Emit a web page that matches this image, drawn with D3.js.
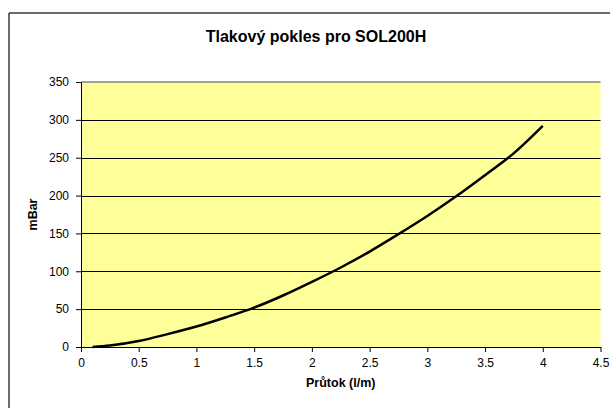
<!DOCTYPE html>
<html><head><meta charset="utf-8">
<script src="https://cdn.jsdelivr.net/npm/d3@7"></script>
<style>html,body{margin:0;padding:0;background:#fff;overflow:hidden;}svg{display:block;overflow:hidden;}</style>
</head><body>
<script>
const flowValues = [0.1, 0.25, 0.5, 0.75, 1.0, 1.25, 1.5, 1.75, 2.0, 2.25, 2.5, 2.75, 3.0, 3.25, 3.5, 3.75, 4.0];
const pressureValues = [0, 2, 8, 17, 27, 39, 52, 68, 86, 105, 126, 149, 173, 199, 227, 256, 292];
const xTicks = [0, 0.5, 1, 1.5, 2, 2.5, 3, 3.5, 4, 4.5];
const yTicks = [0, 50, 100, 150, 200, 250, 300, 350];
const titleText = "Tlakový pokles pro SOL200H";
const xLabel = "Průtok (l/m)";
const yLabel = "mBar";

const W = 610, H = 408;
const m = {left: 81, right: 600.5, top: 82, bottom: 347};
const svg = d3.select("body").append("svg").attr("width", W).attr("height", H);
const font = "Arial, 'Liberation Sans', sans-serif";

// chart area border: only its left and top edges fall inside the frame
svg.append("line").attr("x1", 9).attr("x2", 9).attr("y1", 13).attr("y2", H)
  .attr("stroke", "#3a3a3a").attr("stroke-width", 1.5);
svg.append("line").attr("x1", 9).attr("x2", W).attr("y1", 13).attr("y2", 13)
  .attr("stroke", "#3a3a3a").attr("stroke-width", 1.5);

const x = d3.scaleLinear().domain([0, 4.5]).range([m.left, m.right]);
const y = d3.scaleLinear().domain([0, 350]).range([m.bottom, m.top]);

// plot area
svg.append("rect").attr("x", m.left).attr("y", m.top)
  .attr("width", m.right - m.left).attr("height", m.bottom - m.top)
  .attr("fill", "#FFFF99");
svg.append("line").attr("x1", m.left).attr("x2", m.right).attr("y1", m.top).attr("y2", m.top)
  .attr("stroke", "#808080").attr("stroke-width", 1.5);

// gridlines
svg.append("g").selectAll("line").data(yTicks.filter(d => d > 0 && d < 350)).join("line")
  .attr("x1", m.left).attr("x2", m.right)
  .attr("y1", d => Math.round(y(d)) + 0.5).attr("y2", d => Math.round(y(d)) + 0.5)
  .attr("stroke", "#000").attr("stroke-width", 1);

// axes
const yAxis = svg.append("g").attr("transform", `translate(${m.left},0)`)
  .call(d3.axisLeft(y).tickValues(yTicks).tickSize(5).tickSizeOuter(0).tickPadding(7).tickFormat(d3.format("d")));
const xAxis = svg.append("g").attr("transform", `translate(0,${m.bottom})`)
  .call(d3.axisBottom(x).tickValues(xTicks).tickSize(5).tickSizeOuter(0).tickPadding(6).tickFormat(d => String(d)));
[xAxis, yAxis].forEach(a => {
  a.selectAll("path").attr("stroke", "#000").attr("stroke-width", 1);
  a.selectAll("line").attr("stroke", "#000");
  a.selectAll("text").attr("font-family", font).attr("font-size", 12).attr("fill", "#000");
});

// curve
const pts = flowValues.map((v, i) => [v, pressureValues[i]]);
svg.append("path").datum(pts)
  .attr("d", d3.line().x(d => x(d[0])).y(d => y(d[1])).curve(d3.curveMonotoneX))
  .attr("fill", "none").attr("stroke", "#000").attr("stroke-width", 2.5).attr("stroke-linejoin", "round");

// titles
svg.append("text").attr("x", 316).attr("y", 41.5).attr("text-anchor", "middle")
  .attr("font-family", font).attr("font-size", 16).attr("font-weight", "bold").text(titleText);
svg.append("text").attr("x", (m.left + m.right) / 2).attr("y", 386.5).attr("text-anchor", "middle")
  .attr("font-family", font).attr("font-size", 12.5).attr("font-weight", "bold").text(xLabel);
svg.append("text").attr("transform", `translate(37,${(m.top + m.bottom) / 2}) rotate(-90)`)
  .attr("text-anchor", "middle")
  .attr("font-family", font).attr("font-size", 12.5).attr("font-weight", "bold").text(yLabel);
</script>
</body></html>
